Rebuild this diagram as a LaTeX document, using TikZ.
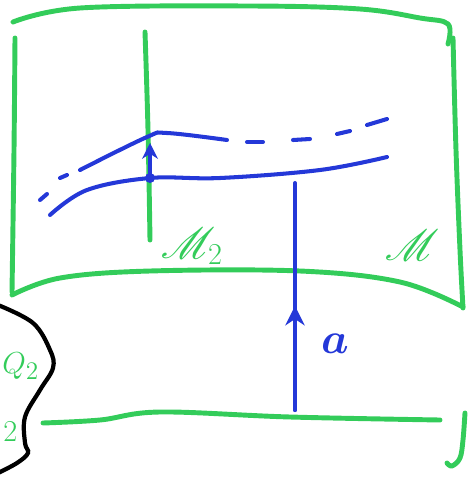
\documentclass[tikz,border=0pt]{standalone}
\usepackage{amsmath, amssymb}
\usepackage{mathrsfs}
\usepackage{xcolor}
\usetikzlibrary{arrows.meta}
\definecolor{leaf-green}{HTML}{33CC5A}
\definecolor{flow-blue}{HTML}{2438D8}

\begin{document}
\begin{tikzpicture}[x=0.02cm, y=-0.02cm,
      greenline/.style={draw=leaf-green, line width=2.8pt, line cap=round, line join=round},
      blueline/.style={draw=flow-blue, line width=2.3pt, line cap=round},
      bigtext/.style={inner sep=0pt, font=\fontsize{24}{26}\selectfont}]
    \useasboundingbox (0,0) rectangle (469,481);
    \clip (0,0) rectangle (469,481);
    % ---- Box M
    \draw[greenline] plot[smooth, tension=0.6] coordinates {(13,22) (80,8) (250,6) (360,9) (420,18) (448,24) (448,44)};
    \draw[greenline] plot[smooth, tension=0.6] coordinates {(453,38) (456,150) (460,250) (463,308)};
    \draw[greenline] plot[smooth, tension=0.6] coordinates {(15,38) (14,150) (12,292)};
    \draw[greenline] plot[smooth, tension=0.6] coordinates {(12,295) (60,278) (150,271) (300,271) (400,282) (463,307)};
    % ---- Leaf M_2
    \draw[greenline] plot[smooth, tension=0.6] coordinates {(145,32) (148,130) (150,240)};
    \node[bigtext, text=leaf-green] (m2) at (192,246) {$\mathscr{M}_2$};
    \node[bigtext, text=leaf-green] (m) at (412,245) {$\mathscr{M}$};
    % ---- Base line
    \draw[greenline] plot[smooth, tension=0.6] coordinates {(43,423) (100,420) (160,412) (290,417) (440,420)};
    \draw[greenline] plot[smooth, tension=0.6] coordinates {(465,413) (463,440) (460,458) (452,466) (447,463)};
    % ---- Left region
    \draw[black, line width=2.4pt] plot[smooth, tension=0.6] coordinates {(-2,305) (33,323) (50,350) (53,368) (40,390) (25,417) (25,443) (28,453) (17,463) (-2,473)};
    \node[bigtext, text=leaf-green, anchor=west, font=\fontsize{19}{21}\selectfont] (q1) at (2,366) {$Q_2$};
    \node[bigtext, text=leaf-green, anchor=west, font=\fontsize{19}{21}\selectfont] (q2) at (3,432) {$2$};
    % ---- Blue curves
    \draw[blueline] plot[smooth, tension=0.6] coordinates {(50,215) (87,190) (150,178) (220,178) (320,170) (387,157)};
    \draw[blueline] (40,200) -- (47,194);
    \draw[blueline] (60,178) -- (67,175);
    \draw[blueline] plot[smooth, tension=0.6] coordinates {(80,170) (147,137) (167,133) (227,140)};
    \draw[blueline] (247,142) -- (263,142);
    \draw[blueline] (293,140) -- (310,139);
    \draw[blueline] (337,134) -- (350,131);
    \draw[blueline] (367,125) -- (387,119);
    % ---- Lift arrow
    \coordinate (p0) at (150,178);
    \coordinate (p1) at (150,143);
    \fill[flow-blue] (p0) circle (5);
    \draw[blueline, -{Stealth[length=9pt, width=9pt]}] (p0) -- (p1);
    % ---- Vertical a
    \coordinate (a0) at (295,410);
    \coordinate (amid) at (295,306);
    \coordinate (a1) at (295,183);
    \draw[blueline] (a0) -- (a1);
    \draw[blueline, -{Stealth[length=11pt, width=11pt]}] (a0) -- (amid);
    \node[bigtext, text=flow-blue, font=\fontsize{30}{32}\selectfont] (alab) at (335,344) {$\boldsymbol{a}$};
\end{tikzpicture}
\end{document}
